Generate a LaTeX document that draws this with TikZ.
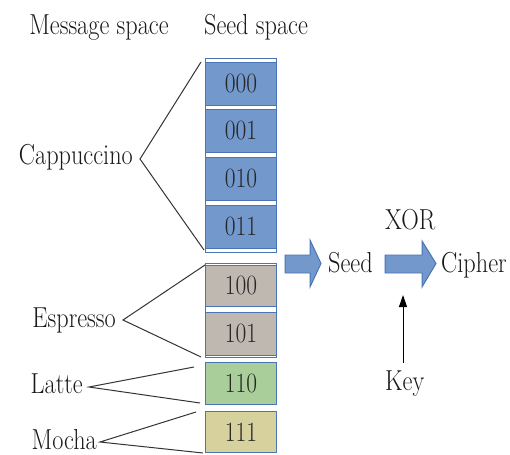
\documentclass[tikz,border=0pt]{standalone}
\usepackage{graphicx}
\usetikzlibrary{arrows.meta}
\definecolor{bfill}{HTML}{7398CC}
\definecolor{bline}{HTML}{4A74B4}
\definecolor{gfill}{HTML}{BEB8B0}
\definecolor{grfill}{HTML}{A9CE9A}
\definecolor{yfill}{HTML}{D7D19D}
\newcommand\sqz[1]{\scalebox{0.84}[1]{#1}}
\tikzset{
  lbl/.style={inner sep=0pt, text=black!90, font=\fontsize{29}{35}\selectfont},
  numbox/.style={draw=bline, line width=1pt, minimum width=71bp, minimum height=43bp, inner sep=0pt, text=black!85, font=\fontsize{28}{34}\selectfont},
  grp/.style={draw=bline, line width=1pt, fill=white},
  brace/.style={draw=black!80, line width=1pt},
  blockarrow/.style={draw=bline, line width=1pt, fill=bfill},
}
\begin{document}
\begin{tikzpicture}[x=1bp,y=-1bp]
\useasboundingbox (0,0) rectangle (510,455);
% headers
\node[lbl, anchor=base] (msg) at (99,35) {\sqz{Message space}};
\node[lbl, anchor=base] (seedsp) at (256,35) {\sqz{Seed space}};
% groups
\draw[grp] (205,59) rectangle (276,252);
\draw[grp] (205,263) rectangle (276,357);
% boxes
\node[numbox, fill=bfill, anchor=north west] (b0) at (205,62) {\sqz{000}};
\node[numbox, fill=bfill, anchor=north west] (b1) at (205,109) {\sqz{001}};
\node[numbox, fill=bfill, anchor=north west] (b2) at (205,157) {\sqz{010}};
\node[numbox, fill=bfill, anchor=north west] (b3) at (205,205) {\sqz{011}};
\node[numbox, fill=gfill, anchor=north west, minimum height=41bp] (b4) at (205,265) {\sqz{100}};
\node[numbox, fill=gfill, anchor=north west] (b5) at (205,312) {\sqz{101}};
\node[numbox, fill=grfill, anchor=north west, minimum height=42bp] (b6) at (205,362) {\sqz{110}};
\node[numbox, fill=yfill, anchor=north west, minimum height=41bp] (b7) at (205,411) {\sqz{111}};
% message labels
\node[lbl, anchor=base east] (cap) at (133,165) {\sqz{Cappuccino}};
\node[lbl, anchor=base east] (esp) at (116,327) {\sqz{Espresso}};
\node[lbl, anchor=base east] (lat) at (83,393) {\sqz{Latte}};
\node[lbl, anchor=base east] (moc) at (97,449) {\sqz{Mocha}};
% apex coordinates
\coordinate (capA) at (140,159);
\coordinate (espA) at (123,320);
\coordinate (latA) at (89,387);
\coordinate (mocA) at (100,442);
\coordinate (capT) at (201,62);
\coordinate (capB) at (204,250);
\coordinate (espT) at (205,265);
\coordinate (espB) at (201,357);
\coordinate (latT) at (194,367);
\coordinate (latB) at (200,403);
\coordinate (mocT) at (196,412);
\coordinate (mocB) at (203,453);
\draw[brace] (capT) -- (capA) -- (capB);
\draw[brace] (espT) -- (espA) -- (espB);
\draw[brace] (latT) -- (latA) -- (latB);
\draw[brace] (mocT) -- (mocA) -- (mocB);
% right part
\node[lbl, anchor=base west] (seed) at (328,272) {\sqz{Seed}};
\node[lbl, anchor=base west] (xor) at (385,230) {\sqz{XOR}};
\node[lbl, anchor=base west] (ciph) at (441,272) {\sqz{Cipher}};
\node[lbl, anchor=base west] (key) at (385,390) {\sqz{Key}};
% block arrows
\draw[blockarrow] (285,255) -- (310,255) -- (310,240) -- (321,263.5) -- (310,287) -- (310,273) -- (285,273) -- cycle;
\draw[blockarrow] (385,255) -- (422,255) -- (422,241) -- (436,263.5) -- (422,287) -- (422,273) -- (385,273) -- cycle;
% key arrow
\coordinate (keyS) at (403,363);
\coordinate (keyE) at (403,295);
\draw[line width=1pt, -{Triangle[length=12bp,width=8bp]}] (keyS) -- (keyE);
\end{tikzpicture}
\end{document}
